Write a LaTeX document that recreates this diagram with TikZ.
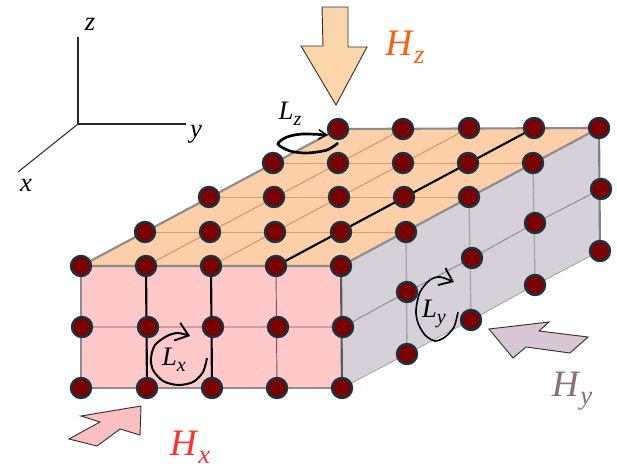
\documentclass[tikz,border=0pt]{standalone}
\usepackage{fontspec}
\setmainfont{Liberation Serif}
\usetikzlibrary{arrows.meta, backgrounds}
\definecolor{cdot}{HTML}{7A0000}
\definecolor{cring}{HTML}{17333F}
\definecolor{ctop}{HTML}{FCCFA8}
\definecolor{cfront}{HTML}{FFC9CA}
\definecolor{cside}{HTML}{D6D0D9}
\definecolor{cedge}{HTML}{8C8C8C}
\definecolor{cfz}{HTML}{FAD6AA}
\definecolor{cfx}{HTML}{FBBFC1}
\definecolor{cfy}{HTML}{D8C6D4}
\definecolor{chz}{HTML}{FF6010}
\definecolor{chx}{HTML}{FF3030}
\definecolor{chy}{HTML}{8A7070}
\newcommand{\lab}[4]{{\fontsize{#1}{#1}\selectfont\textit{#3}}\raisebox{-0.22\dimexpr#1\relax}{\fontsize{#2}{#2}\selectfont\textit{#4}}}
\tikzset{
  site/.style={circle, draw=cring, fill=cdot, line width=1.8pt, minimum size=15pt, inner sep=0pt},
  edge/.style={draw=cedge, line width=1.6pt, line join=round},
  topline/.style={draw=#1, line width=0.7pt},
  topline/.default=black!40,
  chain/.style={draw=black, line width=1.6pt},
  field/.style={draw=black!80, line width=0.7pt, fill=#1, line join=miter},
  axis/.style={draw=black!85, line width=0.8pt},
  turn/.style={draw=black, line width=1.5pt, -{Straight Barb[length=9pt, width=14pt, line width=1.4pt]}},
  axlab/.style={inner sep=0pt, font=\fontsize{20pt}{20pt}\selectfont\itshape},
}

\begin{document}
\begin{tikzpicture}[x=0.75pt, y=-0.75pt]
  \useasboundingbox (0,0) rectangle (617,467);
  % sites on the top, front and side faces
  \foreach \n/\x/\y in {t00/81/266, t01/146/266, t02/211/266, t03/276/266, t04/341/266,
    t10/145/232, t11/210/232, t12/275/232, t13/341/232, t14/406/232,
    t20/209/197, t21/274/197, t22/339/197, t23/404/197, t24/469/197,
    t30/273/163, t31/338/163, t32/403/163, t33/468/163, t34/533/163,
    t40/338/129, t41/403/129, t42/469/128, t43/534/128, t44/599/128,
    fm0/82/327, fm1/148/327, fm2/213/327, fm3/278/327, fm4/343/327,
    fb0/81/388, fb1/147/388, fb2/212/388, fb3/277/388, fb4/342/388,
    sm1/407/292, sm2/472/258, sm3/535/223, sm4/601/189,
    sb1/407/354, sb2/471/320, sb3/535/285, sb4/600/251} {
    \node[site] (\n) at (\x,\y) {};
  }
  \begin{scope}[on background layer]
    \fill[ctop] (t00.center) -- (t04.center) -- (t44.center) -- (t40.center) -- cycle;
    \fill[cfront] (t00.center) -- (t04.center) -- (fb4.center) -- (fb0.center) -- cycle;
    \fill[cside] (t04.center) -- (t44.center) -- (sb4.center) -- (fb4.center) -- cycle;
    % thin grid
    \foreach \r in {1,2,3}
      \draw[topline=brown!60!ctop] (t\r0.center) -- (t\r4.center);
    \draw[topline=brown!75!ctop] (t01.center) -- (t41.center) (t02.center) -- (t42.center);
    \draw[topline=red!35!black!70] (fm0.center) -- (fm4.center) (t03.center) -- (fb3.center);
    \foreach \r in {1,2,3}
      \draw[topline=black!35, line width=1pt] (t\r4.center) -- (sb\r.center);
    \draw[topline=black!45] (fm4.center) -- (sm1.center) -- (sm2.center) -- (sm3.center) -- (sm4.center);
    \draw[topline=black!35] (fb4.center) -- (sb1.center) -- (sb2.center) -- (sb3.center) -- (sb4.center);
    % outlines
    \draw[edge] (t00.center) -- (t40.center) -- (t44.center);
    \draw[edge] (t00.center) -- (t04.center) -- (t44.center);
    \draw[edge] (t00.center) -- (fb0.center) -- (fb4.center);
    \draw[edge, draw=black!65] (t04.center) -- (fb4.center);
    \draw[edge, draw=black!50] (t44.center) -- (sb4.center);
    % the three bold chains
    \draw[chain] (t01.center) -- (fb1.center);
    \draw[chain] (t02.center) -- (fb2.center);
    \draw[chain] (t03.center) -- (t43.center);
  \end{scope}
  % axes
  \coordinate (orig) at (78,124);
  \node[axlab] (zlab) at (90,24) {z};
  \node[axlab] (ylab) at (196,134) {y};
  \node[axlab] (xlab) at (26,185) {x};
  \draw[axis] (orig) -- (78,37);
  \draw[axis] (orig) -- (186,124);
  \draw[axis] (orig) -- (18,172);
  % field arrows
  \draw[field=cfz] (322,7) -- (348,7) -- (348,47) -- (367,47) -- (336,105) -- (301,46) -- (323,46) -- cycle;
  \draw[field=cfx] (141,406) -- (140,435) -- (120,429) -- (97,446) -- (69,439) -- (100,422) -- (81,416) -- cycle;
  \draw[field=cfy] (489,329) -- (549,322) -- (539,331) -- (588,337) -- (570,353) -- (526,347) -- (513,358) -- cycle;
  \node[inner sep=0pt, text=chz] (hz) at (405,47) {\lab{28pt}{20pt}{H}{z}};
  \node[inner sep=0pt, text=chx] (hx) at (190,447) {\lab{28pt}{20pt}{H}{x}};
  \node[inner sep=0pt, text=chy] (hy) at (572,391) {\lab{28pt}{20pt}{H}{y}};
  % rotation loops
  \draw[turn] plot[smooth] coordinates {(207,358) (203,372) (193,382) (178,385) (163,381) (153,370) (151,358) (155,345) (167,336) (178,333) (190,336)};
  \node[inner sep=0pt] (lx) at (174,360) {\lab{20pt}{15pt}{L}{x}};
  \draw[turn, line width=1.2pt] plot[smooth] coordinates {(458,312) (454,327) (445,337) (435,341) (425,335) (418,323) (416,310) (420,292) (430,280) (440,277) (454,282)};
  \node[inner sep=0pt] (ly) at (434,314) {\lab{20pt}{15pt}{L}{y}};
  \draw[turn, line width=2pt, -{Straight Barb[length=6pt, width=7pt, line width=1.1pt]}] plot[smooth] coordinates {(338,143) (327,150) (307,153) (290,151) (278,144) (287,137) (303,134) (328,135)};
  \node[inner sep=0pt] (lz) at (290,114) {\lab{20pt}{15pt}{L}{z}};
\end{tikzpicture}
\end{document}
